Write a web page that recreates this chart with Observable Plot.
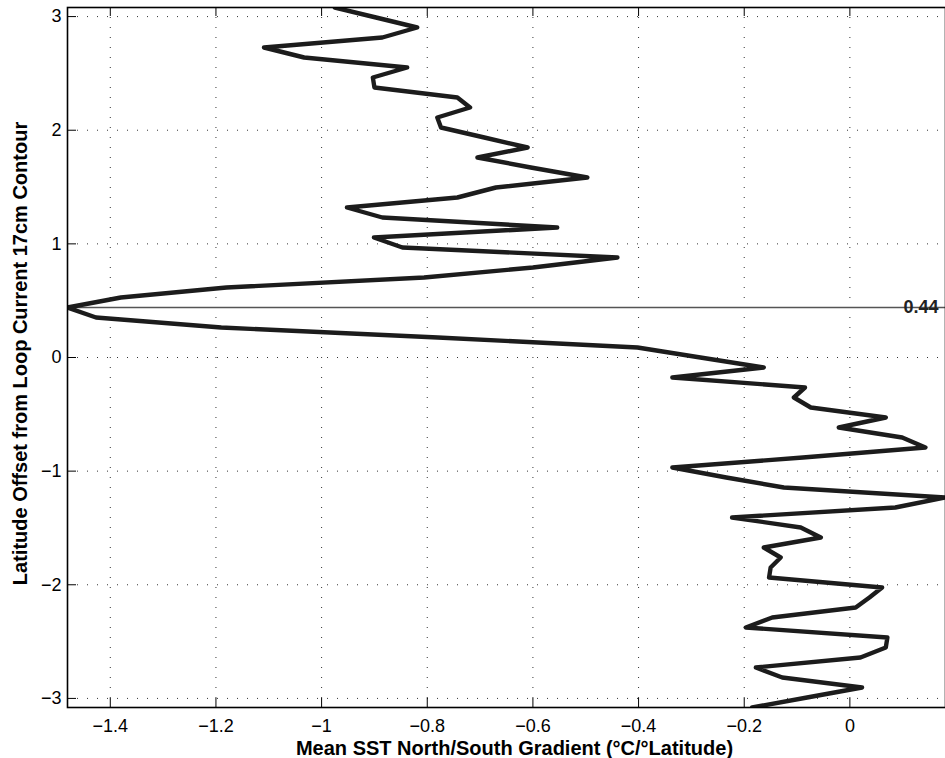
<!DOCTYPE html>
<html>
<head>
<meta charset="utf-8">
<script src="https://cdn.jsdelivr.net/npm/d3@7"></script>
<script src="https://cdn.jsdelivr.net/npm/@observablehq/plot@0.6"></script>
<style>
  html, body { margin: 0; padding: 0; background: #fff; }
  #chart svg { display: block; }
</style>
</head>
<body>
<div id="chart"></div>
<script>
// Latitude offset from Loop Current 17cm contour (degrees), top to bottom
const latitudeOffset = [
  3.080, 2.992, 2.904, 2.816, 2.728, 2.640, 2.552, 2.464, 2.376, 2.288,
  2.200, 2.112, 2.024, 1.936, 1.848, 1.760, 1.672, 1.584, 1.496, 1.408,
  1.320, 1.232, 1.144, 1.056, 0.968, 0.880, 0.792, 0.704, 0.616, 0.528,
  0.440, 0.352, 0.264, 0.176, 0.088, 0.000, -0.088, -0.176, -0.264, -0.352,
  -0.440, -0.528, -0.616, -0.704, -0.792, -0.880, -0.968, -1.056, -1.144, -1.232,
  -1.320, -1.408, -1.496, -1.584, -1.672, -1.760, -1.848, -1.936, -2.024, -2.112,
  -2.200, -2.288, -2.376, -2.464, -2.552, -2.640, -2.728, -2.816, -2.904, -2.992,
  -3.080
];
// Mean SST north/south gradient (°C per degree latitude)
const sstGradient = [
  -0.975, -0.897, -0.819, -0.885, -1.109, -1.033, -0.838, -0.903, -0.900, -0.743,
  -0.719, -0.781, -0.774, -0.692, -0.610, -0.705, -0.604, -0.497, -0.670, -0.743,
  -0.952, -0.885, -0.554, -0.901, -0.847, -0.440, -0.600, -0.806, -1.180, -1.380,
  -1.481, -1.427, -1.190, -0.780, -0.402, -0.283, -0.163, -0.336, -0.085, -0.106,
  -0.074, 0.068, -0.021, 0.099, 0.143, -0.089, -0.336, -0.234, -0.125, 0.181,
  0.086, -0.223, -0.093, -0.055, -0.163, -0.131, -0.150, -0.153, 0.061, 0.037,
  0.011, -0.147, -0.197, 0.071, 0.068, 0.020, -0.178, -0.128, 0.023, -0.081,
  -0.185
];
const xTicks = [-1.4, -1.2, -1, -0.8, -0.6, -0.4, -0.2, 0];
const yTicks = [-3, -2, -1, 0, 1, 2, 3];
const markerLatitude = [0.44];
const markerLabel = ["0.44"];
const xLabel = "Mean SST North/South Gradient (°C/°Latitude)";
const yLabel = "Latitude Offset from Loop Current 17cm Contour";
const xDomain = [-1.481, 0.181];
const yDomain = [-3.08, 3.08];

const data = latitudeOffset.map((lat, i) => ({lat, grad: sstGradient[i]}));

const W = 945, H = 758, mL = 67, mR = 0, mT = 7, mB = 51;
const fw = W - mL - mR, fh = H - mT - mB;
const tickLen = 9;
const fmt = d => (d < 0 ? "\u2212" + Math.abs(d) : String(d));
const font = "'Liberation Sans', Arial, Helvetica, sans-serif";
const gridStyle = {stroke: "#000", strokeWidth: 1, strokeDasharray: "1,9", strokeOpacity: 0.8};

const chart = Plot.plot({
  width: W,
  height: H,
  marginLeft: mL,
  marginRight: mR,
  marginTop: mT,
  marginBottom: mB,
  style: {fontFamily: font, background: "#fff", color: "#000"},
  x: {domain: xDomain},
  y: {domain: yDomain},
  marks: [
    Plot.ruleX(xTicks, gridStyle),
    Plot.ruleY(yTicks, gridStyle),
    Plot.tickX(xTicks, {insetTop: fh - tickLen, stroke: "#000"}),
    Plot.tickX(xTicks, {insetBottom: fh - tickLen, stroke: "#000"}),
    Plot.tickY(yTicks, {insetRight: fw - tickLen, stroke: "#000"}),
    Plot.axisX(xTicks, {anchor: "bottom", tickSize: 0, tickPadding: 12, tickFormat: fmt, fontSize: 18, label: null}),
    Plot.axisY(yTicks, {anchor: "left", tickSize: 0, tickPadding: 6, tickFormat: fmt, fontSize: 18, label: null}),
    Plot.ruleY(markerLatitude, {stroke: "#555", strokeWidth: 1.3}),
    Plot.line(data, {x: "grad", y: "lat", stroke: "#1c1c1c", strokeWidth: 4.4, strokeLinejoin: "round", clip: true}),
    Plot.text(markerLatitude, {y: d => d, frameAnchor: "right", text: (d, i) => markerLabel[i], textAnchor: "end", dx: -7, fontWeight: "bold", fontSize: 18, fill: "#222"}),
    Plot.frame({stroke: "#000", strokeWidth: 1.6}),
    Plot.text([xLabel], {text: d => d, frameAnchor: "bottom", textAnchor: "middle", lineAnchor: "top", dy: 33, dx: 8, fontWeight: "bold", fontSize: 20}),
    Plot.text([yLabel], {text: d => d, frameAnchor: "left", textAnchor: "middle", rotate: -90, lineAnchor: "top", dx: -55, dy: -4, fontWeight: "bold", fontSize: 20})
  ]
});
document.getElementById("chart").appendChild(chart);
</script>
</body>
</html>
